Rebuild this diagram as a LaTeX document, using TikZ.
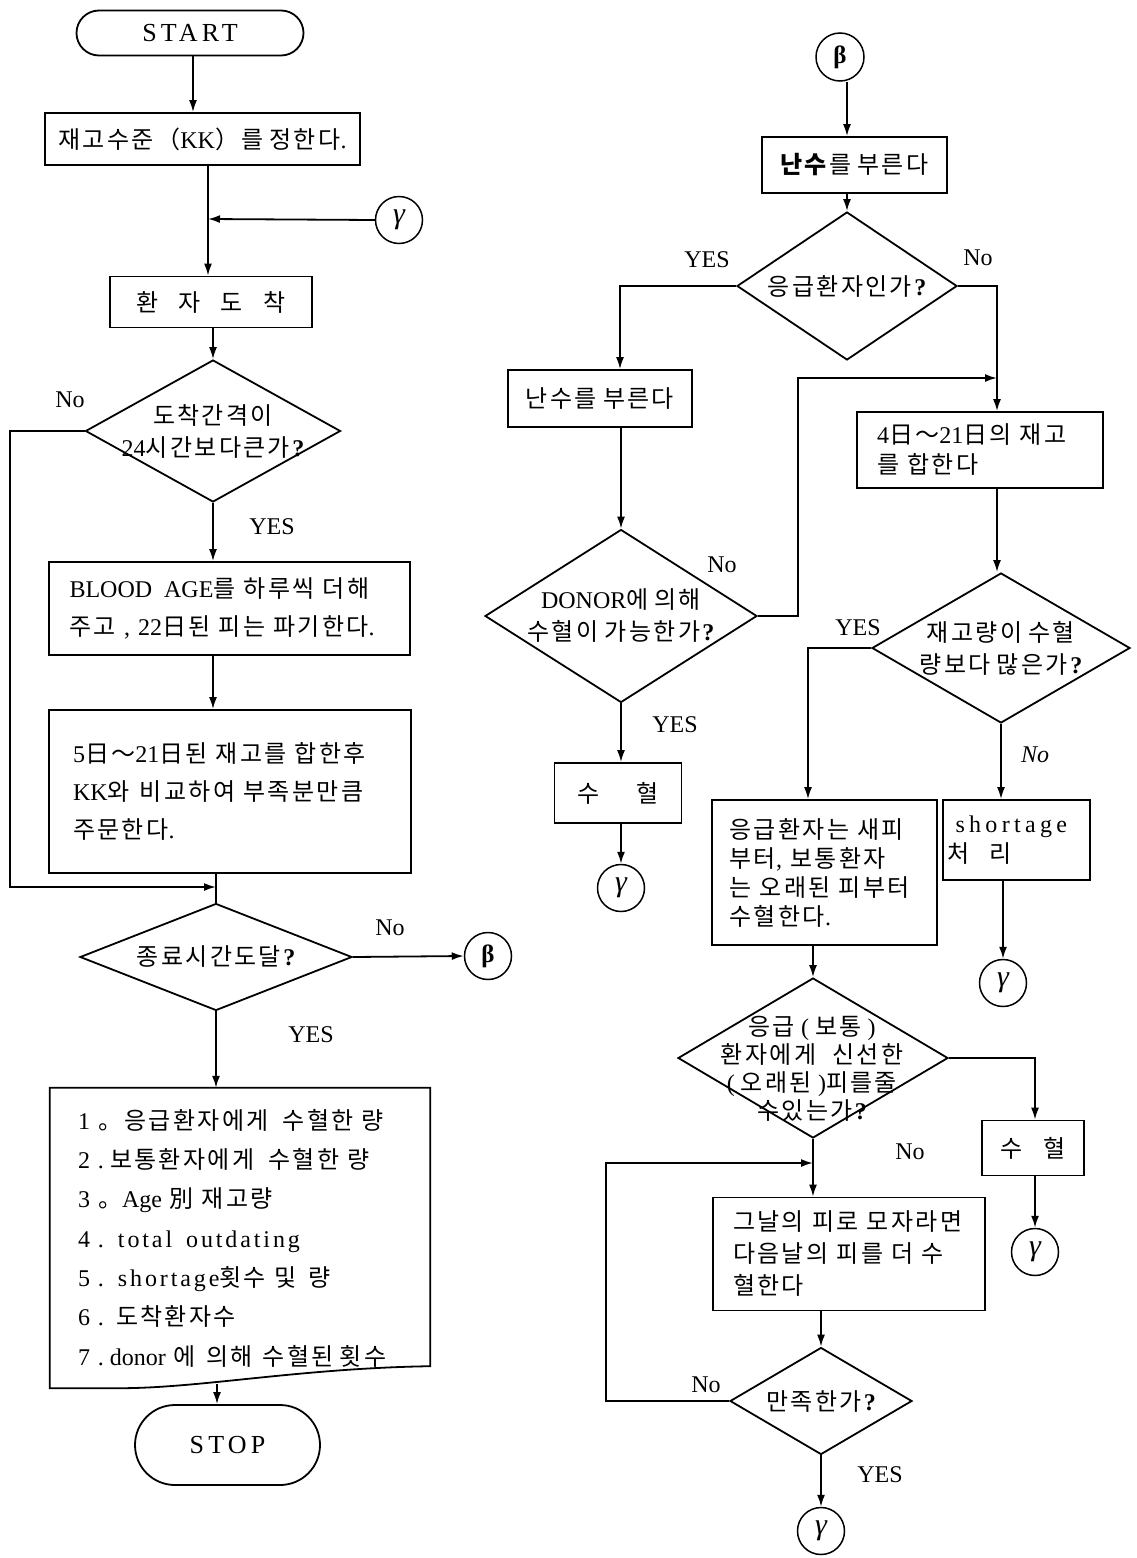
\documentclass[tikz,border=0pt]{standalone}
\usepackage{fontspec}
\setmainfont{Liberation Serif}
\newfontfamily\krfont{Noto Sans CJK KR}[LetterSpace=10]
\usetikzlibrary{arrows.meta,shapes.geometric,shapes.misc}
\XeTeXinterchartokenstate=1
\newXeTeXintercharclass\krclass
\newcount\krc
\krc="AC00
\loop
  \XeTeXcharclass\krc=\krclass
  \ifnum\krc<"D7A3
  \advance\krc by 1
\repeat
\XeTeXcharclass"65E5=\krclass
\XeTeXcharclass"5225=\krclass
\XeTeXcharclass"FF5E=\krclass
\XeTeXcharclass"FF08=\krclass
\XeTeXcharclass"FF09=\krclass
\XeTeXcharclass"3002=\krclass
\XeTeXinterchartoks 0 \krclass={\krfont}
\XeTeXinterchartoks 4095 \krclass={\krfont}
\XeTeXinterchartoks \krclass 0={\rmfamily}
\XeTeXinterchartoks \krclass 4095={\rmfamily}
\begin{document}
\begin{tikzpicture}[x=1pt,y=-1pt, font=\fontsize{24}{32}\selectfont,
 box/.style={draw, rectangle, line width=1.8pt, inner sep=0pt},
 dia/.style={draw, diamond, line width=1.8pt, inner sep=-60pt, align=center},
 term/.style={draw, rounded rectangle, line width=1.8pt, inner sep=0pt},
 conn/.style={draw, circle, line width=1.5pt, minimum size=47pt, inner sep=0pt},
 gam/.style={font=\fontsize{30}{30}\selectfont\itshape},
 bet/.style={font=\fontsize{25}{25}\selectfont\bfseries},
 lab/.style={font=\fontsize{24}{28}\selectfont},
 ln/.style={draw, line width=1.8pt},
 arr/.style={ln, -{Latex[length=12pt,width=8pt]}}]
\useasboundingbox (0,0) rectangle (1136,1558);

% ---------------- left column ----------------
\node[term, minimum width=227, minimum height=45, font=\fontsize{26}{30}\selectfont] (start) at (190,33) {\addfontfeature{LetterSpace=16}START};
\node[box, minimum width=315, minimum height=52] (b1) at (202.5,139) {재고수준（KK）를 정한다.};
\coordinate (j1) at (208,219);
\node[conn, gam] (g1) at (399,220) {γ};
\node[box, minimum width=202, minimum height=51] (b2) at (211,302) {환\hspace{20pt}자\hspace{20pt}도\hspace{20pt}착};
\node[dia, minimum width=255, minimum height=142] (d1) at (213,431) {도착간격이\\24시간보다큰가\textbf{?}};
\node[lab] (l1) at (70,400) {No};
\node[lab] (l2) at (272,527) {YES};
\node[box, minimum width=361, minimum height=93, text width=320, align=left, font=\fontsize{24}{38}\selectfont] (b3) at (229.5,608.5) {\mbox{BLOOD\hspace{12pt}AGE를 하루씩 더해}\\\mbox{주고 , 22日된 피는 파기한다.}};
\node[box, minimum width=362, minimum height=163, text width=314, align=left, font=\fontsize{24}{38}\selectfont] (b4) at (230,791.5) {\mbox{5日～21日된 재고를 합한후}\\\mbox{KK와\hspace{10pt}비교하여 부족분만큼}\\\mbox{주문한다.}};
\coordinate (j2) at (216,887);
\node[dia, minimum width=272, minimum height=107] (d2) at (216,957) {종료시간도달\textbf{?}};
\node[lab] (l3) at (390,928) {No};
\node[conn, bet] (g0) at (488,956) {β};
\node[lab] (l4) at (311,1035) {YES};
\node[align=left, text width=324pt, minimum width=380, minimum height=300, inner sep=0pt, font=\fontsize{24}{39.3}\selectfont] (out) at (240,1238) {%
\mbox{1 。응급환자에게\hspace{14pt}수혈한\hspace{8pt}량}\\
\mbox{2 .\hspace{6pt}보통환자에게\hspace{14pt}수혈한\hspace{8pt}량}\\
\mbox{3 。Age 別 재고량}\\
\mbox{4 .\hspace{14pt}{\addfontfeature{LetterSpace=12}total\hspace{14pt}outdating}}\\
\mbox{5 .\hspace{14pt}{\addfontfeature{LetterSpace=12}shortage}횟수 및\hspace{12pt}량}\\
\mbox{6 . 도착환자수}\\
\mbox{7 .\hspace{6pt}donor 에\hspace{10pt}의해\hspace{10pt}수혈된\hspace{6pt}횟수}};
\draw[ln] (out.south west) -- (out.north west) -- (out.north east) -- ([yshift=22pt]out.south east) .. controls ([xshift=-130pt,yshift=20pt]out.south east) and ([xshift=150pt]out.south west) .. ([xshift=70pt]out.south west) -- cycle;
\coordinate (oc) at (217,1384);
\node[term, minimum width=185, minimum height=80, font=\fontsize{26}{30}\selectfont] (stop) at (227.5,1445) {\addfontfeature{LetterSpace=16}STOP};

% left connectors
\draw[arr] ([xshift=3pt]start.south) -- ([xshift=3pt]start.south |- b1.north);
\draw[arr] (b1.south -| j1) -- (b2.north -| j1);
\draw[arr] (g1.west) -- (j1);
\draw[arr] (b2.south -| d1.north) -- (d1.north);
\draw[arr] (d1.south) -- (d1.south |- b3.north);
\draw[arr] (b3.south -| d1.south) -- (b4.north -| d1.south);
\draw[ln] (b4.south -| d2.north) -- (d2.north);
\draw[arr] (d1.west) -- ++(-75,0) |- (j2);
\draw[arr] (d2.east) -- (g0.west);
\draw[arr] (d2.south) -- (d2.south |- out.north);
\draw[arr] (oc) -- (oc |- stop.north);

% ---------------- right column ----------------
\node[conn, bet, minimum size=48pt] (gb) at (840,57) {β};
\coordinate (cR) at (847,100);
\node[box, minimum width=185, minimum height=56] (r1) at (854.5,165) {\textbf{난수}\krfont 를 부른다};
\node[dia, minimum width=220, minimum height=148] (d3) at (847,286) {응급환자인가\textbf{?}};
\node[lab] (l5) at (707,260) {YES};
\node[lab] (l6) at (978,258) {No};
\node[box, minimum width=184, minimum height=57] (r2) at (600,398.5) {난수를 부른다};
\node[dia, minimum width=272, minimum height=173] (d4) at (621,616) {DONOR에 의해\\수혈이 가능한가\textbf{?}};
\node[lab] (l7) at (722,565) {No};
\node[lab] (l8) at (675,725) {YES};
\node[box, minimum width=127, minimum height=60] (r4) at (618,793) {수\hspace{36pt}혈};
\node[conn, gam] (g2) at (621,888) {γ};
\coordinate (j3) at (997,378);
\node[box, minimum width=246, minimum height=76, text width=206, align=left, font=\fontsize{24}{30}\selectfont] (r3) at (980,450) {\mbox{4日～21日의 재고}\\\mbox{를 합한다}};
\node[dia, minimum width=258, minimum height=150] (d5) at (1001,648) {재고량이 수혈\\량보다 많은가\textbf{?}};
\node[lab] (l9) at (858,628) {YES};
\node[lab, font=\fontsize{24}{28}\selectfont\itshape] (l10) at (1035,755) {No};
\node[box, minimum width=225, minimum height=145, text width=190, align=left, font=\fontsize{24}{29}\selectfont] (r5) at (824.5,872.5) {\mbox{응급환자는 새피}\\\mbox{부터, 보통환자}\\\mbox{는 오래된 피부터}\\\mbox{수혈한다.}};
\node[box, minimum width=147, minimum height=80, text width=138, align=left, font=\fontsize{24}{30}\selectfont] (r6) at (1016.5,840) {\mbox{\hspace{8pt}\addfontfeature{LetterSpace=18}shortage}\\\mbox{처\hspace{20pt}리}};
\node[conn, gam] (g3) at (1003,983) {γ};
\node[dia, minimum width=270, minimum height=160] (d6) at (813,1058) {};
\node[align=center, font=\fontsize{24}{28}\selectfont] (d6t) at (812,1069) {응급 ( 보통 )\\환자에게\hspace{16pt}신선한\\( 오래된 )피를줄\\수있는가\textbf{?}};
\node[box, minimum width=102, minimum height=55] (r7) at (1033,1148) {수\hspace{20pt}혈};
\node[conn, gam] (g4) at (1035,1252) {γ};
\node[lab] (l11) at (910,1152) {No};
\coordinate (j4) at (813,1163);
\node[box, minimum width=272, minimum height=113, text width=232, align=left, font=\fontsize{24}{32}\selectfont] (r8) at (849,1254) {\mbox{그날의 피로 모자라면}\\\mbox{다음날의 피를 더 수}\\\mbox{혈한다}};
\node[dia, minimum width=182, minimum height=107] (d7) at (821,1401) {만족한가\textbf{?}};
\node[lab] (l12) at (706,1385) {No};
\node[lab] (l13) at (880,1475) {YES};
\node[conn, gam] (g5) at (821,1531) {γ};

% right connectors
\draw[arr] (gb.south -| cR) -- (r1.north -| cR);
\draw[arr] (r1.south -| d3.north) -- (d3.north);
\draw[arr] (d3.west) -| ([xshift=20pt]r2.north);
\draw[arr] (d3.east) -| (r3.north -| j3);
\draw[arr] (d4.east) -- ++(40,0) |- (j3);
\draw[arr] (r2.south -| d4.north) -- (d4.north);
\draw[arr] (d4.south) -- (d4.south |- r4.north);
\draw[arr] (r4.south -| d4.south) -- (g2.north);
\draw[arr] (r3.south -| j3) -- (d5.north -| j3);
\draw[arr] (d5.west) -| ([xshift=-16.5pt]r5.north);
\draw[arr] (d5.south) -- (d5.south |- r6.north);
\draw[arr] (r6.south -| g3.north) -- (g3.north);
\draw[arr] (r5.south -| d6.north) -- (d6.north);
\draw[arr] (d6.east) -| (r7.north -| g4.north);
\draw[arr] (r7.south -| g4.north) -- (g4.north);
\draw[arr] (d6.south) -- (d6.south |- r8.north);
\draw[arr] (d7.west) -- ++(-123,0) |- (j4);
\draw[arr] (r8.south -| d7.north) -- (d7.north);
\draw[arr] (d7.south) -- (g5.north);
\end{tikzpicture}
\end{document}
